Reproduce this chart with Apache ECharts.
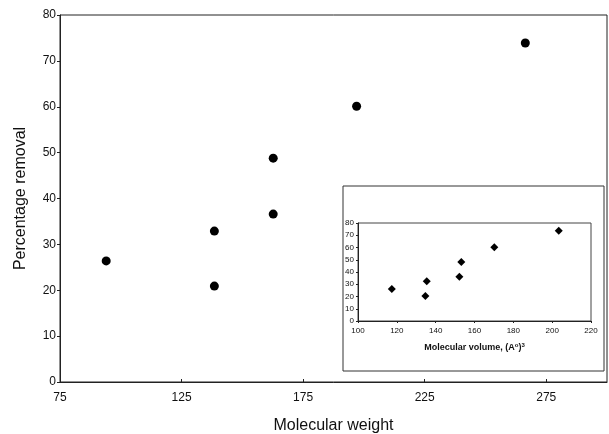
<!DOCTYPE html>
<html>
<head>
  <meta charset="utf-8">
  <title>Percentage removal</title>
  <script src="https://cdn.jsdelivr.net/npm/echarts@6/dist/echarts.min.js"></script>
  <style>
    html, body { margin: 0; padding: 0; background: #fff; }
    #chart { width: 609px; height: 434px; }
  </style>
</head>
<body>
  <div id="chart"></div>
  <script>
    // main plot: molecular weight vs removal
    var molWeight = [94, 138.5, 138.5, 162.7, 162.7, 197, 266.4];
    var removal = [26.4, 32.9, 20.9, 48.8, 36.6, 60.1, 73.9];
    // inset: molecular volume vs removal
    var molVolume = [117.4, 134.7, 135.4, 152.2, 153.2, 170.2, 203.4];
    var insetRemoval = [26.1, 20.4, 32.4, 36.2, 48.2, 60.2, 73.7];

    function pairs(xs, ys) {
      var out = [];
      for (var i = 0; i < xs.length; i++) out.push([xs[i], ys[i]]);
      return out;
    }

    var font = 'Liberation Sans, Arial, sans-serif';
    var myChart = echarts.init(document.getElementById('chart'));
    var option = {
      animation: false,
      backgroundColor: '#fff',
      textStyle: { fontFamily: font },
      graphic: [{
        type: 'rect',
        shape: { x: 343, y: 186, width: 261, height: 185 },
        style: { fill: '#fff', stroke: '#333', lineWidth: 1 },
        z: 10
      }],
      grid: [
        { left: 60, top: 15, width: 547, height: 367, outerBoundsMode: 'none', containLabel: false,
          show: true, borderColor: '#222', borderWidth: 1 },
        { left: 358, top: 223, width: 233, height: 98, outerBoundsMode: 'none', containLabel: false,
          z: 20, show: true, borderColor: '#444', borderWidth: 1 }
      ],
      xAxis: [{
        gridIndex: 0, type: 'value', min: 75, max: 300, interval: 50,
        name: 'Molecular weight', nameLocation: 'middle', nameGap: 36,
        nameTextStyle: { fontSize: 16, color: '#111' },
        axisLine: { lineStyle: { color: '#222' } },
        axisTick: { inside: true, length: 3, lineStyle: { color: '#222' } },
        axisLabel: { fontSize: 12, color: '#111', margin: 10, showMaxLabel: false },
        splitLine: { show: false }
      }, {
        gridIndex: 1, type: 'value', min: 100, max: 220, interval: 20,
        name: 'Molecular volume, (A{sup|o}){sup|3}', nameLocation: 'middle', nameGap: 21,
        nameTextStyle: { fontSize: 9, fontWeight: 'bold', color: '#111',
          rich: { sup: { fontSize: 6, fontWeight: 'bold', verticalAlign: 'top', padding: [0, 0, 6, 0] } } },
        axisLine: { lineStyle: { color: '#222' } },
        axisTick: { length: 2, lineStyle: { color: '#222' } },
        axisLabel: { fontSize: 8, color: '#111', margin: 6 },
        splitLine: { show: false }, z: 20
      }],
      yAxis: [{
        gridIndex: 0, type: 'value', min: 0, max: 80, interval: 10,
        name: 'Percentage removal', nameLocation: 'middle', nameGap: 31,
        nameTextStyle: { fontSize: 16, color: '#111' },
        axisLine: { show: true, lineStyle: { color: '#222' } },
        axisTick: { show: true, length: 3, lineStyle: { color: '#222' } },
        axisLabel: { fontSize: 12, color: '#111', margin: 4 },
        splitLine: { show: false }
      }, {
        gridIndex: 1, type: 'value', min: 0, max: 80, interval: 10,
        axisLine: { show: true, lineStyle: { color: '#222' } },
        axisTick: { show: true, length: 2, lineStyle: { color: '#222' } },
        axisLabel: { fontSize: 8, color: '#111', margin: 4 },
        splitLine: { show: false }, z: 20
      }],
      series: [{
        type: 'scatter', xAxisIndex: 0, yAxisIndex: 0,
        symbol: 'circle', symbolSize: 9,
        itemStyle: { color: '#000', opacity: 1 },
        data: pairs(molWeight, removal)
      }, {
        type: 'scatter', xAxisIndex: 1, yAxisIndex: 1,
        symbol: 'diamond', symbolSize: 8, z: 20,
        itemStyle: { color: '#000', opacity: 1 },
        data: pairs(molVolume, insetRemoval)
      }]
    };
    myChart.setOption(option);
  </script>
</body>
</html>
